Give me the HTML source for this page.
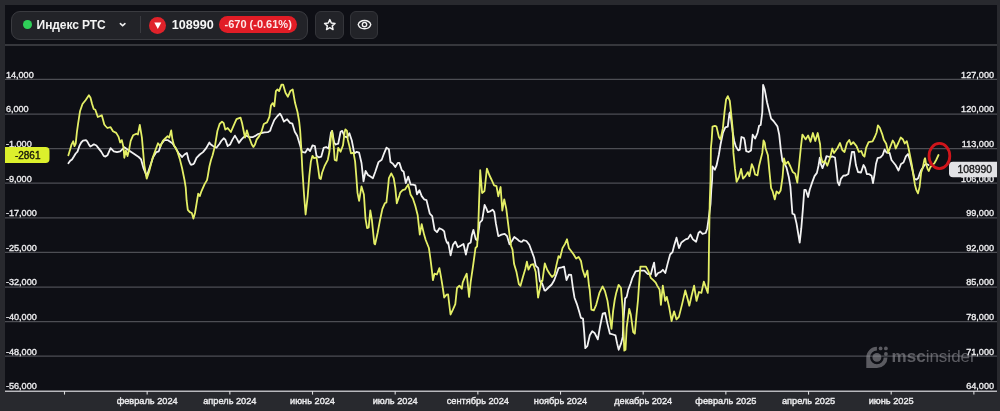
<!DOCTYPE html>
<html><head><meta charset="utf-8">
<style>
html,body{margin:0;padding:0;}
body{width:1000px;height:411px;overflow:hidden;background:#28292e;position:relative;font-family:"Liberation Sans",Arial,sans-serif;}
.panel{position:absolute;left:5px;top:5px;width:992px;height:386px;background:#0e0f15;}
.hline{position:absolute;left:5px;top:44px;width:992px;height:2px;background:#36373c;}
svg{position:absolute;left:0;top:0;}
.yl{font-family:"Liberation Sans",Arial,sans-serif;font-size:9.3px;fill:#ececee;stroke:#ececee;stroke-width:0.35px;}
.xl{font-family:"Liberation Sans",Arial,sans-serif;font-size:9.8px;fill:#ececee;stroke:#ececee;stroke-width:0.4px;}
.bd{font-family:"Liberation Sans",Arial,sans-serif;font-size:10px;stroke-width:0.35px;}
.pill{position:absolute;left:10.9px;top:10.6px;width:294.9px;height:27px;border:1px solid #3a3b40;border-radius:9px;background:#222328;}
.dot{position:absolute;left:22.8px;top:20.1px;width:8.8px;height:8.8px;border-radius:50%;background:#2fcf58;}
.name{position:absolute;left:36.6px;top:18.2px;font-size:12px;letter-spacing:-0.08px;font-weight:bold;color:#f4f4f4;line-height:15px;white-space:nowrap;}
.chev{position:absolute;left:118px;top:20px;}
.div{position:absolute;left:139.5px;top:16px;width:1px;height:17px;background:#3a3b40;}
.rc{position:absolute;left:149.2px;top:16.6px;width:17.2px;height:17.2px;border-radius:50%;background:#e0222a;}
.tri{position:absolute;left:154px;top:22px;}
.price{position:absolute;left:171.7px;top:18px;font-size:12.6px;font-weight:bold;color:#f6f6f6;line-height:15px;}
.chg{position:absolute;left:219.2px;top:16.1px;width:78px;height:17.3px;border-radius:9px;background:#e11d26;color:#fde8e8;font-size:11px;font-weight:bold;line-height:17.3px;text-align:center;white-space:nowrap;}
.btn{position:absolute;top:10.8px;width:27px;height:26.5px;border:1px solid #34353a;border-radius:6px;background:#222328;}
</style></head><body>
<div class="panel"></div>
<div class="hline"></div>
<div class="pill"></div>
<div class="dot"></div>
<div class="name">Индекс РТС</div>
<svg class="chev" width="10" height="10" viewBox="0 0 10 10"><path d="M2.4,3.6 L4.65,5.8 L6.9,3.6" fill="none" stroke="#f0f0f0" stroke-width="1.6" stroke-linecap="round" stroke-linejoin="round"/></svg>
<div class="div"></div>
<div class="rc"></div>
<svg class="tri" width="8" height="8" viewBox="0 0 8 8"><path d="M0.3,0.5 L7.3,0.5 L3.8,7 Z" fill="#ffffff"/></svg>
<div class="price">108990</div>
<div class="chg">-670 (-0.61%)</div>
<div class="btn" style="left:315.2px"></div>
<div class="btn" style="left:350px;width:26px"></div>
<svg style="left:0;top:0" width="400" height="45" viewBox="0 0 400 45">
<path d="M329.80,19.60 L331.33,23.00 L335.03,23.40 L332.27,25.90 L333.03,29.55 L329.80,27.70 L326.57,29.55 L327.33,25.90 L324.57,23.40 L328.27,23.00 Z" fill="none" stroke="#f2f2f2" stroke-width="1.5" stroke-linejoin="round"/>
<path d="M358.2,24.6 C359.9,19.1 369.1,19.1 370.8,24.6 C369.1,30.1 359.9,30.1 358.2,24.6 Z" fill="none" stroke="#f2f2f2" stroke-width="1.4" stroke-linejoin="round"/>
<circle cx="364.5" cy="24.6" r="2.2" fill="none" stroke="#f2f2f2" stroke-width="1.4"/>
</svg>
<svg width="1000" height="411" viewBox="0 0 1000 411" style="left:0;top:0">
<line x1="5" x2="997" y1="79.40" y2="79.40" stroke="#4d4e54" stroke-width="1.25"/>
<line x1="5" x2="997" y1="114.00" y2="114.00" stroke="#4d4e54" stroke-width="1.25"/>
<line x1="5" x2="997" y1="148.60" y2="148.60" stroke="#4d4e54" stroke-width="1.25"/>
<line x1="5" x2="997" y1="183.20" y2="183.20" stroke="#4d4e54" stroke-width="1.25"/>
<line x1="5" x2="997" y1="217.80" y2="217.80" stroke="#4d4e54" stroke-width="1.25"/>
<line x1="5" x2="997" y1="252.40" y2="252.40" stroke="#4d4e54" stroke-width="1.25"/>
<line x1="5" x2="997" y1="287.00" y2="287.00" stroke="#4d4e54" stroke-width="1.25"/>
<line x1="5" x2="997" y1="321.60" y2="321.60" stroke="#4d4e54" stroke-width="1.25"/>
<line x1="5" x2="997" y1="356.20" y2="356.20" stroke="#4d4e54" stroke-width="1.25"/>
<g opacity="0.55" fill="#9a9aa0">
<path d="M876.9,346.8 A10.6,10.6 0 0 0 866.3,357.4 L866.3,368 L876.9,368 A10.6,10.6 0 0 0 887.5,357.4 L883.7,357.4 A6.8,6.8 0 1 1 876.9,350.6 Z"/>
<circle cx="876.9" cy="357.4" r="4.4"/>
<circle cx="880.6" cy="348.4" r="1.9"/>
<circle cx="885.9" cy="348.4" r="1.9"/>
<circle cx="885.9" cy="353.9" r="1.9"/>
<text x="891.6" y="361.6" font-family="Liberation Sans, sans-serif" font-size="17" font-weight="bold" letter-spacing="0">msc<tspan font-weight="normal">insider</tspan></text>
</g>
<polyline points="68.4,163.2 70.2,160.8 72,159.5 73.9,156.5 75.7,153.5 77.5,151.6 79.3,146.2 81.2,142.5 83,140.7 86,140.1 87.2,141.3 89.1,144.9 90.3,146.5 92.1,145.5 93.9,144.3 96.4,145.5 98.8,148.6 101.2,151.6 103.7,155.9 105.5,156.6 107.4,155.3 110.6,148.1 113.8,151.3 117,152.1 120.2,151.3 124.3,147.3 129,150.5 133.9,153.7 138.7,157 141.1,159.4 143.5,168.2 146.7,176.2 150,166.6 153.2,157 156.4,152.1 158.8,151.3 161.2,144.1 164.4,140.1 167.6,140.1 172.4,143.3 175.7,148.1 178.9,153.7 182.1,157 184.5,154.5 186.9,152.9 188.6,160 190.1,163.4 191,164.8 193.3,164.2 194.2,163.2 196.5,157.8 199.8,154.5 203,152.1 206.2,148.1 209.4,142.5 210,143.7 212.6,145.7 213.2,146.1 216.4,147.7 219.6,143.7 221.2,141 223.7,138.3 225.3,139.6 227.7,146.1 230.1,144.5 232.5,139.6 234.9,135.6 237.3,139.6 238.9,142.9 241.3,139.6 243.7,137.2 246.1,135.6 249.4,137.2 252.6,137.2 255.8,135.6 258.2,134 261.4,133 264.6,132.4 267.8,132.2 270.2,130.8 271,128 274.3,120 277.5,116 279.9,113.6 281.5,116 283.9,121.6 287.1,119.2 290,122.9 292.4,123.7 294.8,131.7 297.2,135.7 299.6,143.7 302,151.8 305.3,152.6 307.7,148.6 310.1,151 312.5,145.3 314.9,146.1 316.5,155.8 318.9,157.4 321.3,156.6 323.7,147.8 326.1,147 328.6,148.6 331,132.5 332.1,130.9 334.2,142.9 335.8,144.5 338.2,143.7 340.6,131.7 342.2,130.9 344.6,136.5 347,137.3 349.4,133.3 351.8,140.5 354.3,153.4 356.7,151.8 359.1,152.6 361.5,163 363.5,181.4 365.6,171 368,175 370.4,176.6 372.9,178.2 375.3,171.8 378.5,162.1 381.7,159.7 384.1,153.3 386.5,147.7 388.9,149.3 390.5,162.1 392.9,163.7 395.3,167 397.8,162.9 399.4,162.9 401.8,170.2 403.7,171.8 405.8,183 408.2,176.6 410.6,184.6 413,184.6 415.4,185.4 417,194.3 419.4,190.2 421.7,196.1 424.1,199.3 426.5,200.1 429.8,213.7 432.2,216.1 434.6,229.8 437,232.2 439.4,228.2 442.6,229.8 444.2,231.4 445.3,237.8 446.6,241.8 447.7,243.5 448.2,242.4 450.6,255.3 453,244.8 455.4,241.6 457.8,247.2 461,245.6 463.5,244 465.9,254.5 468.3,244 470.7,242.4 471.8,235.4 473.4,229.8 475.8,239.4 477.4,240.2 479.8,222.6 482.2,220.2 484.6,204.9 486.2,208.1 487.8,212.1 490.2,211.3 492.7,209.7 494.3,212.1 495.9,223.4 498.3,236.2 501.5,234.6 504.7,233.8 507.1,236.2 509.5,244.3 511.9,241 514.3,237 517.6,239.4 518.9,240.8 520.8,241.8 522.1,241.6 523.2,240.2 526.4,241 529.3,244.8 531.7,251.2 534.1,257.7 535.7,265.7 538.2,268.1 539.8,281 541.4,283.4 542.1,283.2 543.8,288.2 544.5,290.4 545.4,290.6 548.5,287.5 551.7,284.5 554.2,280.2 556.6,273.7 558.5,268.2 561.7,267.4 564.1,266.6 566.5,280.2 568.9,274.6 571.2,275 572.9,288 574.5,297.7 576.9,304.1 579.3,312.1 580.9,317.8 583,318.6 584.2,332.1 585.3,348.2 587.4,345.8 589.8,335.3 592.2,331.3 594.6,332.9 597.8,339.4 600.2,325.7 602.7,313.7 605.1,312.9 607.5,324.1 609.9,333.7 613.1,334.5 615.5,335.3 617.1,343.4 618.7,349.8 621.1,343.4 622.7,336.9 623.5,320.2 625.1,298.5 626.7,296.9 628.3,289.6 630.7,283.2 632.4,277.8 635.6,271.4 639.6,270.6 644.4,270.6 647.6,273.8 650.8,274.6 652.4,268.2 654.1,262.6 655.7,276.2 658.1,273 660.5,272.2 662.9,269.8 665.3,273 667.7,263.4 670.1,254.5 672.5,252.1 674.1,245.7 676.5,237.7 679,248.1 681.4,242.5 682.4,241.8 685.6,239.4 688,238.6 690.4,234.6 692.9,239.4 696.1,241.8 698.5,233 700.1,231.4 702.5,233.8 705.7,233 707.3,228.2 708.9,217 710.5,204.1 711.3,189.6 712.1,180 712.5,166.5 714.9,169.7 716.5,165.7 718.9,154.5 720.5,144.8 722.9,133 725.3,127.4 727.8,126.6 729.4,113.7 730.2,112.1 731.4,121.8 732.6,131.4 734.2,141 735.8,146.4 738.2,150.4 739.8,149.6 741.4,137 743.8,137.8 744.6,140 746.2,151.2 748.6,152 751,150.4 752.7,134.6 755.1,138.6 757.5,133 759.1,125.8 760.7,125 762.3,112.1 763.1,84.8 764.7,89.6 767.1,102.5 769.5,112.1 771.1,118.6 773.5,121 775.9,124.2 777.5,126.6 779.2,134.6 780.8,149.6 782.4,160.9 784.8,164.1 786.4,167.3 788.8,177 790.4,186.6 792.4,213.7 794.4,214.5 796.5,223.4 798.1,233 799.7,242.7 801.3,228.2 802.9,208.9 804.3,190 805.7,189.8 808.1,197 809.7,189.8 812.1,182.6 814.5,176.1 816.9,172.9 818.5,165.7 819.8,157.7 820.9,164.1 822.5,168.1 824.9,161.7 826.5,156.1 829.5,157 832.5,156.5 835,157.5 836.5,170 837.7,182 839.3,185.3 840.9,178.9 843.3,175.7 845.7,175.5 848.3,174 850.3,162 851.9,152 854.1,151.8 855.9,165 858,172 861,172.5 863.5,165 865.1,167.7 866.8,174 869.2,174.2 871.6,175.8 873,183 874.6,174 876,164 877.6,158.2 880.5,157.3 882.7,155 884.6,149.5 886.5,152.5 889.6,153 891.5,160 893.5,162.5 895.7,165.3 898.5,170.5 901,164 903.5,162.5 905.9,156.4 908,154 910,160 912,168 914.5,178.9 916.5,179.6 918.3,178 919.7,173.5 921.2,170 922.8,167.7 924.5,165 926.5,164 928.5,165" fill="none" stroke="#f2f2f2" stroke-width="1.8" stroke-linejoin="round" stroke-linecap="round"/>
<polyline points="68.4,155.3 70.2,149.2 71.4,144.9 73.2,141.3 74.5,146.2 75.7,143.7 76.9,132.2 78.1,123.6 80,111.3 82.5,104 85.7,100 88.9,95.3 90.5,97.7 92.1,104 93.7,109 95.3,109.7 97.8,117 101.8,115.3 104.3,124.5 105.5,126 107.4,128 110.6,127.2 113,131.2 116.2,132.9 118.6,136.9 120.2,142.5 121.8,140.1 123.5,147.3 124.3,157.8 125.9,150.5 127.5,156.1 129.1,149.7 130.7,140.9 133.1,135.3 136.3,133.7 137.9,134.5 139.8,124.8 141.9,137.7 144.3,165 146.7,178.6 149.2,171.4 152.4,158.6 155.6,149.7 158,143.3 160.4,146.5 162.8,140.9 165.2,138.5 167.6,136.1 169.2,137.7 171.2,130.4 172.4,139.3 174.1,145.7 175.7,148.1 177.3,151.3 179.7,158.6 182.1,168.2 184.5,180 185.7,187.3 186.6,200.2 187.8,209.8 189.8,212.2 191.8,213 193.4,218.6 195,213 196.6,203.4 198.2,193.7 199.8,196.1 201.4,191.3 204.6,184.1 207,180.1 207.8,176.1 209.4,166.5 211,160 212.6,155.3 215,145.7 217.4,131 219.6,124 222,121.6 223.7,123.2 225.3,129.6 227.7,128 230.9,132 233.3,126.4 236.5,119.2 240.5,117.6 242.1,123.2 243.7,131.2 245,137.6 246.9,130.4 248.6,136 249.4,138 251.8,144.5 253.4,146.9 255,144.5 256.6,139.6 259,136.4 261.4,132 263.8,124 267,122.4 269.4,116.8 271,105.5 272.7,103.1 274.3,106.3 275.9,91.1 277.5,89.5 279.1,91.1 281.5,84.6 283.1,84.6 285.5,92.7 287.9,96.7 290.3,91.1 292.7,89.5 295.1,103.1 297.5,112 299.2,121.6 300.2,131 301.2,147 302.4,170.2 304,194.3 305.6,214.5 307.7,196.1 309.3,176 310.9,161.4 312.5,155.8 314.1,158.2 316.5,157.4 318.1,167.8 319.5,178.2 320.8,179 322.1,172.7 324.5,166.2 327.8,159.8 329.4,151.8 331,136.5 332.1,131 333.4,142.1 334.7,159.8 336.6,160.6 338.2,147.8 340.6,151.8 343,145.3 344.6,132.5 345.4,129.3 347,130.9 347.8,139.7 349.4,146.1 351,153.4 353.5,152.6 355.1,161.4 356.2,175 357.5,192.9 359.1,200.9 361.5,186.4 363.9,194.5 365.5,218.6 367.1,228.2 368.7,227.4 370.3,210.5 371.9,220.2 374.3,243.5 375.1,244.3 377.6,233 380,220.2 382.4,208.9 384.8,203.3 386.4,202.5 388.3,184.8 388.9,178.2 391.3,173.4 393.7,178.2 395.3,187.8 396.8,203.3 399.2,196.1 400.2,192.7 402.6,190.2 405,189.4 408.2,184.6 409.8,191 410.5,194.5 412.9,198.5 415.3,205.7 417.7,215.3 419.8,234.6 421.7,224.2 424.1,234.6 425.7,240 428.9,248 430.5,259.3 432.1,272.1 432.9,280.2 434.5,273.7 436.9,274.5 439.4,268.1 441,276.9 442.6,286.6 444.2,297.5 446.6,294.6 448.1,294.5 450.5,314.5 452.9,309.7 455.3,304.1 457,288 459.4,285.6 461.8,288.8 462.7,282.6 464.3,278.6 466.7,273.7 469.1,297 470.7,281.8 473.1,265.7 475.5,248 477.1,246.4 478.2,228.2 479,204.1 480.2,170.2 482.1,193 484.5,191 486.9,168.6 489.3,175 491.7,180 494.1,185.4 496.5,186.2 498.3,196.3 500.6,187 502.3,210.5 504.2,199.3 506.3,208.9 507.9,221.8 509.5,234.6 511.1,246 512.5,249.6 514.1,264.1 516.5,272.1 518.9,284.2 520.5,285.8 522.9,277 525.3,268.9 526.9,261.7 528.5,269.7 530.9,264.9 533.3,264.1 535.7,272.1 538.1,297.7 539.7,289.6 541.4,281 542.4,281 544.8,263.4 547.2,269.8 549.6,273.8 552,277 554.5,274.6 556.1,266.6 558.5,256.1 560.1,257.8 562.5,248.1 564.9,244.1 567,239.3 568.9,248.1 571.3,251.3 573.7,254.5 576.1,258.6 578.6,256.9 581,261 582.6,269.8 585,277 587.4,270.6 589,286 589.7,289.6 591.4,309.6 593.8,310.4 596.2,304.8 599.4,292.9 602.6,286.4 605,291.2 607.5,300.9 609.9,317.7 611.5,328.9 613.1,311.2 614.7,300 616.2,292.9 618.6,284.8 621,288 622.7,308.9 623.5,330 624.3,350.6 625.5,349.8 626.7,327.3 629.2,308.8 630.8,314.5 633.2,332.1 634.8,333.7 636.4,316.1 638,300 638.7,289.6 640.4,266.6 642.8,266.6 646,266.6 648.4,271.4 650.8,277.8 653.3,280.2 655.7,282.7 657.2,285.6 659.6,289.6 660.9,304.9 662.8,285.6 665.2,300.9 666.8,296.9 669.2,307.3 671.6,321 674.1,311.3 676.5,319.4 678.9,316.9 682.1,304.1 685.3,290.4 687.7,299.3 689.3,305.7 691.7,295.3 694.1,285.6 696.5,300.9 699,292 701.4,292.9 703.8,281.6 707.8,292.9 708.6,280 709,246 709.7,204 710.5,180 710.9,148 711.7,140 712.5,126.6 714.9,125.8 716.5,126.6 718.9,137 720.5,139.4 722.9,128.2 724.5,112.1 726.1,99.3 727.8,96.1 729.8,100.9 731,112.1 732.6,128.2 733.4,152.9 735,168.9 736.6,181.8 739,177 741.1,168.9 743,178.6 745.4,176.1 747.8,172.1 749.4,176.1 751.8,164.1 753.5,168.1 755.1,174.5 757.5,175.3 759.1,165.7 760.7,159.3 762.3,152.9 763.5,140.5 764.7,142.7 765.5,148 767.9,155.3 769.5,172.1 771.1,188.2 772.7,191.4 774.8,199.4 776.5,191.5 778.8,193.5 780.6,190.5 782.6,177 784,158.5 785.6,164.1 788,161.7 790.4,166.5 792.8,172.1 795.2,173.7 797.3,182.6 799.2,164.1 800.8,148 802.4,134.6 805.7,139.4 808.1,135.4 810.5,141.8 812.9,133 815.3,141 817.7,133 820.1,144.3 820.9,156.1 822.5,162.5 824.9,160.9 827.3,165.7 830,158 832.3,148.5 834,153 837.5,148 840,143 842.3,150 844.5,152 847,143 849.3,140 850.9,144.5 853.3,142.1 856.5,146.1 858.9,151.8 861.3,151 862.9,155 864.5,156.6 866.1,147.8 868.6,142.1 872.6,141.3 875,136.5 876.6,132.5 877.9,125.3 879.8,127.7 882.2,134.1 883.8,139.7 886.2,143.7 888.2,152.6 890.2,147 892.7,140.5 894.3,142.9 895.7,148.5 898.3,143 900.7,137.5 903,139.5 904.7,143.5 906.8,141.2 908.5,148 910.3,157 912,166 913.5,176 915,185 916.4,190.2 918,193.4 919.6,186.9 921.2,172.5 922.8,167.7 924.4,159.6 925.1,158.2 926,163.5 927.6,169 928.8,171 930.4,167 932.8,165 934.5,163 936.2,160 938.5,155" fill="none" stroke="#e4ef66" stroke-width="1.8" stroke-linejoin="round" stroke-linecap="round"/>
<line x1="5" x2="997" y1="391.2" y2="391.2" stroke="#b9b9be" stroke-width="1.6"/>
<line x1="64.50" x2="64.50" y1="391" y2="394.6" stroke="#dadadd" stroke-width="1.1"/>
<line x1="147.17" x2="147.17" y1="391" y2="394.6" stroke="#dadadd" stroke-width="1.1"/>
<text transform="translate(147.17,403.9) scale(0.94,1)" text-anchor="middle" class="xl">февраль 2024</text>
<line x1="229.84" x2="229.84" y1="391" y2="394.6" stroke="#dadadd" stroke-width="1.1"/>
<text transform="translate(229.84,403.9) scale(0.94,1)" text-anchor="middle" class="xl">апрель 2024</text>
<line x1="312.51" x2="312.51" y1="391" y2="394.6" stroke="#dadadd" stroke-width="1.1"/>
<text transform="translate(312.51,403.9) scale(0.94,1)" text-anchor="middle" class="xl">июнь 2024</text>
<line x1="395.18" x2="395.18" y1="391" y2="394.6" stroke="#dadadd" stroke-width="1.1"/>
<text transform="translate(395.18,403.9) scale(0.94,1)" text-anchor="middle" class="xl">июль 2024</text>
<line x1="477.85" x2="477.85" y1="391" y2="394.6" stroke="#dadadd" stroke-width="1.1"/>
<text transform="translate(477.85,403.9) scale(0.94,1)" text-anchor="middle" class="xl">сентябрь 2024</text>
<line x1="560.52" x2="560.52" y1="391" y2="394.6" stroke="#dadadd" stroke-width="1.1"/>
<text transform="translate(560.52,403.9) scale(0.94,1)" text-anchor="middle" class="xl">ноябрь 2024</text>
<line x1="643.19" x2="643.19" y1="391" y2="394.6" stroke="#dadadd" stroke-width="1.1"/>
<text transform="translate(643.19,403.9) scale(0.94,1)" text-anchor="middle" class="xl">декабрь 2024</text>
<line x1="725.86" x2="725.86" y1="391" y2="394.6" stroke="#dadadd" stroke-width="1.1"/>
<text transform="translate(725.86,403.9) scale(0.94,1)" text-anchor="middle" class="xl">февраль 2025</text>
<line x1="808.53" x2="808.53" y1="391" y2="394.6" stroke="#dadadd" stroke-width="1.1"/>
<text transform="translate(808.53,403.9) scale(0.94,1)" text-anchor="middle" class="xl">апрель 2025</text>
<line x1="891.20" x2="891.20" y1="391" y2="394.6" stroke="#dadadd" stroke-width="1.1"/>
<text transform="translate(891.20,403.9) scale(0.94,1)" text-anchor="middle" class="xl">июнь 2025</text>
<line x1="973.87" x2="973.87" y1="391" y2="394.6" stroke="#dadadd" stroke-width="1.1"/>
<text transform="translate(5.9,77.70) scale(0.98,1)" class="yl">14,000</text>
<text transform="translate(994,77.70) scale(0.98,1)" class="yl" text-anchor="end">127,000</text>
<text transform="translate(5.9,112.30) scale(0.98,1)" class="yl">6,000</text>
<text transform="translate(994,112.30) scale(0.98,1)" class="yl" text-anchor="end">120,000</text>
<text transform="translate(5.9,146.90) scale(0.98,1)" class="yl">-1,000</text>
<text transform="translate(994,146.90) scale(0.98,1)" class="yl" text-anchor="end">113,000</text>
<text transform="translate(5.9,181.50) scale(0.98,1)" class="yl">-9,000</text>
<text transform="translate(994,181.50) scale(0.98,1)" class="yl" text-anchor="end">106,000</text>
<text transform="translate(5.9,216.10) scale(0.98,1)" class="yl">-17,000</text>
<text transform="translate(994,216.10) scale(0.98,1)" class="yl" text-anchor="end">99,000</text>
<text transform="translate(5.9,250.70) scale(0.98,1)" class="yl">-25,000</text>
<text transform="translate(994,250.70) scale(0.98,1)" class="yl" text-anchor="end">92,000</text>
<text transform="translate(5.9,285.30) scale(0.98,1)" class="yl">-32,000</text>
<text transform="translate(994,285.30) scale(0.98,1)" class="yl" text-anchor="end">85,000</text>
<text transform="translate(5.9,319.90) scale(0.98,1)" class="yl">-40,000</text>
<text transform="translate(994,319.90) scale(0.98,1)" class="yl" text-anchor="end">78,000</text>
<text transform="translate(5.9,354.50) scale(0.98,1)" class="yl">-48,000</text>
<text transform="translate(994,354.50) scale(0.98,1)" class="yl" text-anchor="end">71,000</text>
<text transform="translate(5.9,389.10) scale(0.98,1)" class="yl">-56,000</text>
<text transform="translate(994,389.10) scale(0.98,1)" class="yl" text-anchor="end">64,000</text>
<path d="M5,147 H45.5 A4,4 0 0 1 49.5,151 V159 A4,4 0 0 1 45.5,163 H5 Z" fill="#dcf02c"/>
<text transform="translate(27.7,159) scale(1.0,1)" text-anchor="middle" class="bd" fill="#15150c" stroke="#15150c">-2861</text>
<path d="M997,161.8 H953 A4,4 0 0 0 949,165.8 V173.3 A4,4 0 0 0 953,177.3 H997 Z" fill="#e2e2e5"/>
<text transform="translate(974.8,173.4) scale(1.04,1)" text-anchor="middle" class="bd" fill="#1a1a1c" stroke="#1a1a1c">108990</text>
<ellipse cx="939.4" cy="156" rx="10.4" ry="12.6" fill="none" stroke="#cf151b" stroke-width="2.8"/>
</svg>
</body></html>
